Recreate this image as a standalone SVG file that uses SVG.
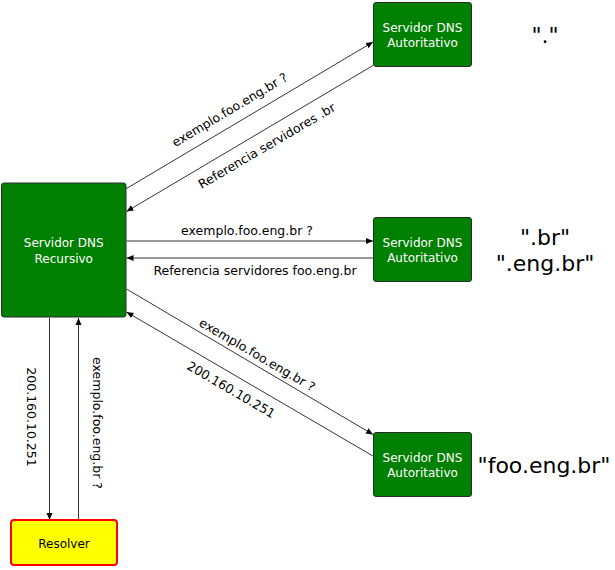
<svg xmlns="http://www.w3.org/2000/svg" width="615" height="570" viewBox="0 0 615 570">
<style>
.box{fill:#008000;stroke:#2a2a2a;stroke-width:1}
.res{fill:#ffff00;stroke:#ff0000;stroke-width:2}
.bt{font-family:"DejaVu Sans",Verdana,sans-serif;font-size:12px;fill:#ffffff;text-anchor:middle}
.rt{font-family:"DejaVu Sans",Verdana,sans-serif;font-size:12px;fill:#000000;text-anchor:middle}
.el{font-family:"DejaVu Sans",Verdana,sans-serif;font-size:12.5px;fill:#000000;text-anchor:middle}
.big{font-family:"DejaVu Sans",Verdana,sans-serif;font-size:22px;fill:#000000;text-anchor:middle}
.ln{stroke:#000000;stroke-width:0.8;fill:none;marker-end:url(#ah)}
</style>
<defs>
<marker id="ah" markerUnits="userSpaceOnUse" markerWidth="8" markerHeight="8" refX="7" refY="4" orient="auto">
<path d="M0,1 L7,4 L0,7 Z" fill="#000"/>
</marker>
</defs>
<g id="connectors">
<line class="ln" x1="126.5" y1="188.5" x2="373" y2="42"/>
<line class="ln" x1="373" y1="65.5" x2="126.5" y2="211.5"/>
<line class="ln" x1="126.5" y1="241" x2="373" y2="241"/>
<line class="ln" x1="373" y1="258" x2="126.5" y2="258"/>
<line class="ln" x1="126.5" y1="289" x2="373" y2="434.5"/>
<line class="ln" x1="373" y1="456" x2="126.5" y2="312"/>
<line class="ln" x1="49.5" y1="318" x2="49.5" y2="520"/>
<line class="ln" x1="78.5" y1="520" x2="78.5" y2="318"/>
<text class="el" transform="translate(232,113.5) rotate(-30.75)">exemplo.foo.eng.br ?</text>
<text class="el" transform="translate(269,149.5) rotate(-30.4)">Referencia servidores .br</text>
<text class="el" x="247" y="235">exemplo.foo.eng.br ?</text>
<text class="el" x="255" y="275">Referencia servidores foo.eng.br</text>
<text class="el" transform="translate(255,358.5) rotate(30.3)">exemplo.foo.eng.br ?</text>
<text class="el" transform="translate(229,393.5) rotate(30.3)">200.160.10.251</text>
<text class="el" transform="translate(27,417) rotate(90)">200.160.10.251</text>
<text class="el" transform="translate(93,423) rotate(90)">exemplo.foo.eng.br ?</text>
</g>
<g id="recursivo">
<rect class="box" x="1.5" y="183" width="124.5" height="134" rx="2.5"/>
<text class="bt" x="63.75" y="247">Servidor DNS</text>
<text class="bt" x="63.75" y="263">Recursivo</text>
</g>
<g id="auth-root">
<rect class="box" x="373.5" y="2.5" width="98" height="64" rx="2.5"/>
<text class="bt" x="422.5" y="31.5">Servidor DNS</text>
<text class="bt" x="422.5" y="47">Autoritativo</text>
</g>
<g id="auth-br">
<rect class="box" x="373.5" y="217.5" width="98" height="64" rx="2.5"/>
<text class="bt" x="422.5" y="246.5">Servidor DNS</text>
<text class="bt" x="422.5" y="262">Autoritativo</text>
</g>
<g id="auth-foo">
<rect class="box" x="373.5" y="432.5" width="98" height="64" rx="2.5"/>
<text class="bt" x="422.5" y="461.5">Servidor DNS</text>
<text class="bt" x="422.5" y="477">Autoritativo</text>
</g>
<g id="resolver">
<rect class="res" x="11" y="520" width="106" height="45" rx="3"/>
<text class="rt" x="64" y="548">Resolver</text>
</g>
<g id="zones">
<text class="big" x="545" y="43">"."</text>
<text class="big" x="545" y="245">".br"</text>
<text class="big" x="545" y="271">".eng.br"</text>
<text class="big" x="544" y="473">"foo.eng.br"</text>
</g>
</svg>
